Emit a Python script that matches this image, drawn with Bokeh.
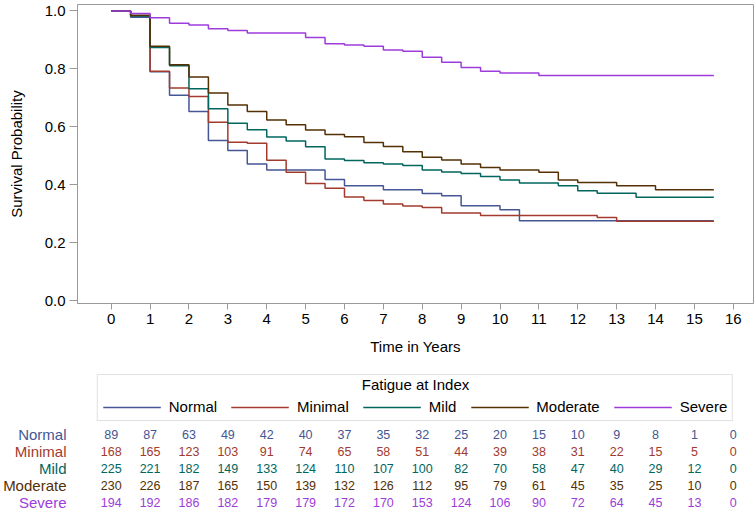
from bokeh.plotting import figure
from bokeh.models import Range1d, Legend, LegendItem, FixedTicker, PrintfTickFormatter
from bokeh.layouts import column
from bokeh.embed import file_html
from bokeh.resources import INLINE
from bokeh.core.properties import value

groups = ["Normal", "Minimal", "Mild", "Moderate", "Severe"]
colors = ["#445694", "#A23A2E", "#01665E", "#543005", "#9D3CDB"]

time_years = [0.0, 0.5, 1.0, 1.5, 2.0, 2.5, 3.0, 3.5, 4.0, 4.5, 5.0, 5.5, 6.0, 6.5, 7.0, 7.5,
              8.0, 8.5, 9.0, 9.5, 10.0, 10.5, 11.0, 11.5, 12.0, 12.5, 13.0, 13.5, 14.0, 14.5, 15.0, 15.5]

surv_normal = [1.0, 0.978, 0.790, 0.709, 0.653, 0.553, 0.518, 0.472, 0.451, 0.451, 0.451, 0.418,
               0.397, 0.397, 0.383, 0.383, 0.370, 0.362, 0.328, 0.328, 0.314, 0.276, 0.276, 0.276,
               0.276, 0.276, 0.276, 0.276, 0.276, 0.276, 0.276, 0.276]
surv_minimal = [1.0, 0.982, 0.792, 0.734, 0.705, 0.616, 0.547, 0.543, 0.485, 0.443, 0.405, 0.388,
                0.358, 0.346, 0.334, 0.327, 0.322, 0.303, 0.303, 0.294, 0.294, 0.294, 0.294, 0.294,
                0.294, 0.287, 0.274, 0.274, 0.274, 0.274, 0.274, 0.274]
surv_mild = [1.0, 0.982, 0.874, 0.811, 0.731, 0.662, 0.612, 0.590, 0.565, 0.551, 0.531, 0.489,
             0.484, 0.476, 0.472, 0.467, 0.451, 0.444, 0.439, 0.429, 0.417, 0.406, 0.406, 0.397,
             0.380, 0.371, 0.371, 0.357, 0.357, 0.357, 0.357, 0.357]
surv_moderate = [1.0, 0.985, 0.878, 0.814, 0.772, 0.717, 0.675, 0.653, 0.624, 0.607, 0.589, 0.574,
                 0.566, 0.546, 0.532, 0.514, 0.495, 0.486, 0.472, 0.460, 0.451, 0.451, 0.443, 0.417,
                 0.408, 0.408, 0.397, 0.397, 0.383, 0.383, 0.383, 0.383]
surv_severe = [1.0, 0.991, 0.976, 0.957, 0.951, 0.938, 0.932, 0.924, 0.924, 0.924, 0.908, 0.887,
               0.882, 0.878, 0.865, 0.861, 0.840, 0.823, 0.805, 0.792, 0.786, 0.786, 0.777, 0.777,
               0.777, 0.777, 0.777, 0.777, 0.777, 0.777, 0.777, 0.777]

risk_times = [0, 1, 2, 3, 4, 5, 6, 7, 8, 9, 10, 11, 12, 13, 14, 15, 16]
risk_normal = [89, 87, 63, 49, 42, 40, 37, 35, 32, 25, 20, 15, 10, 9, 8, 1, 0]
risk_minimal = [168, 165, 123, 103, 91, 74, 65, 58, 51, 44, 39, 38, 31, 22, 15, 5, 0]
risk_mild = [225, 221, 182, 149, 133, 124, 110, 107, 100, 82, 70, 58, 47, 40, 29, 12, 0]
risk_moderate = [230, 226, 187, 165, 150, 139, 132, 126, 112, 95, 79, 61, 45, 35, 25, 10, 0]
risk_severe = [194, 192, 186, 182, 179, 179, 172, 170, 153, 124, 106, 90, 72, 64, 45, 13, 0]

x_ticks = list(range(0, 17))
y_ticks = [0.0, 0.2, 0.4, 0.6, 0.8, 1.0]
legend_title = "Fatigue at Index"

survs = [surv_normal, surv_minimal, surv_mild, surv_moderate, surv_severe]
risks = [risk_normal, risk_minimal, risk_mild, risk_moderate, risk_severe]

FONT = "Liberation Sans"
AXC = "#9a9a9a"
W = 755
BL, BR = 77, 2
X_RANGE = (-0.867, 16.52)

# ---- main survival plot ----
p = figure(width=W, height=362, x_range=Range1d(*X_RANGE), y_range=Range1d(-0.0093, 1.022),
           output_backend="svg", toolbar_location=None,
           min_border_left=BL, min_border_right=BR, min_border_top=4, min_border_bottom=59)
p.grid.visible = False
p.outline_line_color = AXC
p.background_fill_color = "white"

for g, c, s in zip(groups, colors, survs):
    p.step(time_years, s, mode="after", line_color=c, line_width=1.5)

for ax in (p.xaxis[0], p.yaxis[0]):
    ax.axis_line_color = AXC
    ax.major_tick_line_color = AXC
    ax.minor_tick_line_color = None
    ax.major_tick_in = 0
    ax.major_label_text_font = FONT
    ax.major_label_text_font_size = "15px"
    ax.major_label_text_color = "black"
    ax.axis_label_text_font = FONT
    ax.axis_label_text_font_size = "15px"
    ax.axis_label_text_font_style = "normal"
    ax.axis_label_text_color = "black"
    ax.major_label_standoff = 4

p.xaxis.ticker = FixedTicker(ticks=x_ticks)
p.xaxis.major_tick_out = 6
p.xaxis.axis_label = "Time in Years"
p.xaxis.axis_label_standoff = 11
p.yaxis.ticker = FixedTicker(ticks=y_ticks)
p.yaxis.formatter = PrintfTickFormatter(format="%.1f")
p.yaxis.major_tick_out = 8
p.yaxis.axis_label = "Survival Probability"
p.yaxis.axis_label_standoff = 17

# ---- legend strip ----
LH = 63
lf = figure(width=W, height=LH, x_range=Range1d(0, 1), y_range=Range1d(0, 1),
            output_backend="svg", toolbar_location=None, x_axis_type=None, y_axis_type=None,
            min_border_left=BL, min_border_right=BR, min_border_top=0, min_border_bottom=0)
lf.grid.visible = False
lf.outline_line_color = None
items = []
for g, c, s in zip(groups, colors, survs):
    r = lf.step(time_years, s, mode="after", line_color=c, line_width=1.5, visible=False)
    items.append(LegendItem(label=g, renderers=[r]))
legend = Legend(items=items, orientation="horizontal", location="top_center",
                title=legend_title, title_text_alpha=0.0,
                title_text_font=FONT, title_text_font_size="15px", title_text_font_style="normal",
                title_standoff=1,
                label_text_font=FONT, label_text_font_size="15px", label_text_color="black",
                glyph_width=58, glyph_height=14, label_height=14, label_standoff=8,
                spacing=14, padding=5, margin=12,
                border_line_color="#c4c4c4", border_line_width=1,
                background_fill_alpha=0.0, inactive_fill_alpha=0.0)
lf.add_layout(legend, "center")
lf.text(x=[0.5], y=[1 - 22 / LH], text=[legend_title], text_align="center", text_baseline="middle",
        text_color="black", text_font=value(FONT), text_font_size="15px")

# ---- number-at-risk table: one strip per group, the group name as a coloured axis label ----
RH = 17
rows = []
for g, c, rv in zip(groups, colors, risks):
    f = figure(width=W, height=RH, x_range=Range1d(*X_RANGE), y_range=Range1d(-0.5, 0.5),
               output_backend="svg", toolbar_location=None, x_axis_type=None,
               min_border_left=BL, min_border_right=BR, min_border_top=0, min_border_bottom=0)
    f.grid.visible = False
    f.outline_line_color = None
    ya = f.yaxis[0]
    ya.ticker = FixedTicker(ticks=[0])
    ya.major_label_overrides = {0: g}
    ya.major_label_text_color = c
    ya.major_label_text_font = FONT
    ya.major_label_text_font_size = "15px"
    ya.major_label_standoff = 11
    ya.major_tick_out = 0
    ya.major_tick_in = 0
    ya.minor_tick_line_color = None
    ya.major_tick_line_color = None
    ya.axis_line_color = None
    f.text(x=risk_times, y=[0] * len(risk_times), text=[str(v) for v in rv],
           text_color=c, text_align="center", text_baseline="middle",
           text_font=value(FONT), text_font_size="12.5px")
    rows.append(f)

layout = column(p, lf, *rows, spacing=0)
open("out.html", "w").write(file_html(layout, INLINE))
